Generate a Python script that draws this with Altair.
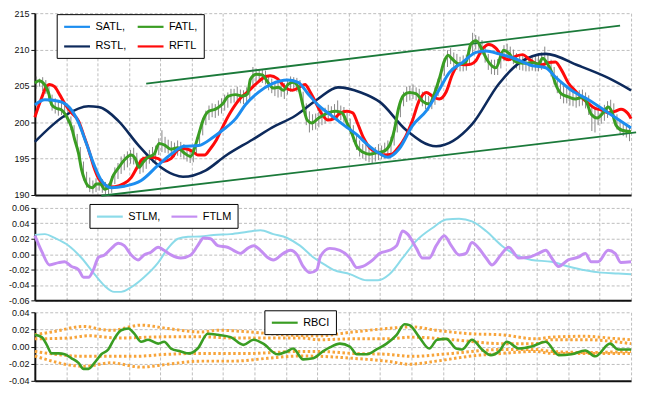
import altair as alt
import pandas as pd
import numpy as np

FONT = "Liberation Sans, Arial, sans-serif"

# ---------------- Panel 1: price bars (low / high per bar) ----------------
bar_low = [204.6,204.9,204.3,203.9,202.8,201.6,201.2,200.9,201.0,200.6,
           199.8,198.9,197.6,196.0,194.2,192.0,191.0,190.4,190.2,190.4,
           190.6,190.3,189.9,189.8,190.3,191.5,192.2,192.9,193.4,193.8,
           194.3,194.2,193.7,192.9,193.1,193.6,194.3,194.5,194.6,195.5,
           195.9,195.8,195.7,195.3,195.2,195.4,195.2,194.9,194.6,194.4,
           194.5,195.6,196.8,198.2,199.6,200.3,200.7,200.6,200.9,201.2,
           201.6,202.0,202.6,202.7,202.8,202.6,202.5,202.8,203.0,204.8,
           205.3,205.6,205.4,205.2,204.4,204.0,203.6,203.4,203.5,203.2,
           203.8,204.2,204.4,204.2,203.8,201.6,199.6,198.6,198.9,199.0,
           199.3,199.6,199.8,200.2,200.2,200.4,200.3,200.3,200.0,199.2,
           198.4,197.3,196.2,195.3,195.0,194.7,194.5,194.4,194.6,194.8,
           194.9,195.0,195.3,195.6,196.8,198.6,200.7,202.2,202.8,203.0,
           203.2,203.0,202.6,202.2,201.8,201.6,201.8,202.4,203.6,205.0,
           206.4,207.6,208.0,207.6,207.2,207.0,207.0,207.1,207.8,209.4,
           210.0,209.9,209.3,208.2,207.2,206.6,206.5,206.5,207.4,208.4,
           208.8,208.5,208.0,207.4,207.2,207.1,207.0,207.0,207.1,207.0,
           207.0,207.2,207.6,207.2,206.3,205.2,204.0,203.2,202.6,202.6,
           202.3,202.2,202.0,202.2,202.3,201.9,201.0,198.8,198.6,199.6,
           199.8,200.2,200.6,200.9,200.4,199.0,198.4,198.1,197.9,197.4]
bar_high = [206.3,206.0,206.2,205.8,205.0,203.8,203.3,202.8,203.4,202.6,
            201.9,200.8,199.6,198.4,196.6,194.6,193.2,192.4,192.0,192.3,
            192.6,192.2,191.8,191.6,192.6,193.8,194.4,195.3,195.6,196.0,
            196.2,196.5,195.8,194.9,195.3,195.8,196.2,196.6,196.8,197.8,
            198.9,198.0,197.6,197.4,197.2,197.5,197.3,197.0,196.5,196.4,
            196.8,197.9,199.2,200.6,201.6,202.3,202.6,202.5,203.0,203.3,
            203.8,204.1,204.6,204.6,204.9,204.5,204.4,204.8,205.4,207.6,
            207.4,207.3,207.2,207.1,206.5,206.0,205.6,205.8,205.6,205.4,
            205.9,206.3,206.2,206.1,205.8,204.2,202.6,201.5,201.1,201.2,
            201.4,201.8,202.0,202.4,202.2,202.5,203.0,202.3,202.1,201.3,
            200.5,199.6,198.4,197.5,197.0,196.9,196.7,196.4,196.6,197.0,
            196.8,197.2,197.5,198.0,199.3,201.0,203.0,204.2,204.9,205.0,
            205.2,204.8,204.6,204.2,203.8,203.6,203.9,204.8,206.0,207.3,
            208.8,209.9,210.2,209.6,209.4,209.0,209.2,209.3,210.4,212.3,
            212.0,211.8,211.3,210.4,209.4,208.6,208.6,208.7,209.6,210.6,
            210.8,210.4,210.0,209.5,209.3,209.2,209.0,209.1,209.2,209.1,
            209.3,209.6,210.4,209.5,208.6,207.6,206.4,205.6,205.0,204.7,
            204.5,204.5,204.2,204.4,204.5,204.1,203.7,202.4,201.8,201.7,
            202.0,202.4,202.9,203.1,202.6,201.1,200.4,200.0,199.8,199.6]

# ---------------- Panel 1: indicator lines (x in bars) ----------------
satl_x = [0,3.2,7.6,11.1,13.9,16.5,19.0,21.2,24.4,28.5,33.9,39.3,43.4,47.5,52.2,56.7,59.8,64.0,
          67.1,71.2,75.7,80.4,83.9,87.1,90.2,94.0,98.8,102.6,105.8,109.9,112.4,116.2,120.3,124.8,
          128.9,132.0,136.2,140.6,143.8,147.9,153.3,158.3,162.8,165.9,171.0,176.4,182.7,190.0]
satl_y = [202.4,203.1,202.9,202.0,200.0,197.0,194.0,192.0,191.0,191.2,192.0,194.1,195.6,196.7,196.8,
          197.9,198.9,200.5,202.4,204.1,205.3,205.8,205.5,203.9,202.4,201.1,199.5,198.3,197.0,195.7,
          195.2,196.4,199.5,201.6,204.5,206.8,208.2,209.6,209.8,209.4,208.7,207.8,207.5,206.2,204.4,
          203.1,201.3,199.2]

fatl_x = [0,1.3,3.2,4.4,5.4,7.0,8.5,10.1,11.7,12.7,13.9,14.9,15.8,17.1,18.4,19.6,20.9,22.2,23.4,25.0,
          26.6,28.5,30.7,32.0,33.2,34.5,36.1,38.0,39.6,41.2,43.4,45.6,47.5,49.7,51.3,52.2,53.8,55.4,
          57.6,59.8,61.7,64.0,66.2,67.8,68.7,70.6,72.5,74.4,76.0,77.6,79.2,80.7,82.3,83.9,85.5,86.8,
          88.3,90.2,93.4,95.9,97.9,99.4,101.0,102.6,104.5,106.7,108.9,111.1,113.0,114.6,115.9,117.5,
          119.4,121.6,123.5,125.7,127.3,128.9,130.5,131.7,133.0,135.2,137.4,139.0,140.6,142.5,144.1,
          146.9,149.4,151.0,153.3,156.4,159.0,160.5,161.8,163.4,164.7,165.9,167.8,170.0,172.3,174.2,
          175.8,177.3,179.2,181.1,182.7,183.9,185.2,187.1,190.0]
fatl_y = [205.4,205.7,205.1,204.0,202.4,201.9,201.7,200.8,199.3,197.6,195.8,193.5,192.2,191.2,191.0,
          191.5,191.5,190.8,191.0,192.7,193.7,194.8,195.5,195.0,193.8,194.5,195.2,195.6,197.1,196.9,
          196.3,196.5,195.8,195.3,197.0,198.3,200.5,201.5,201.8,202.5,203.6,203.8,203.6,203.9,205.9,
          206.6,206.5,205.4,204.7,204.8,204.4,205.2,205.5,204.9,202.2,200.3,199.9,200.5,201.3,201.5,
          201.3,200.0,198.5,196.7,195.9,195.6,195.8,196.0,196.8,199.0,201.9,203.7,204.1,203.9,202.9,
          202.5,203.9,206.0,208.4,209.2,208.7,208.0,208.3,210.8,211.2,210.0,208.6,207.5,209.9,209.5,
          208.3,208.1,208.2,208.0,208.8,208.0,206.9,205.3,203.9,203.5,203.2,203.4,202.8,201.1,200.6,
          201.3,202.1,201.4,199.6,198.9,198.7]

rstl_x = [0,9.5,17.1,20.3,26.6,32.9,39.3,44.3,47.2,54.5,60.8,69.3,75.7,83.0,90.2,96.6,103.9,109.9,
          118.4,127.9,139.3,147.9,154.2,162.8,173.2,182.7,190.0]
rstl_y = [197.3,200.9,202.2,202.1,200.2,196.9,194.1,192.8,192.5,193.4,195.4,197.6,199.3,200.9,203.2,
          204.8,204.1,202.8,198.9,196.7,199.7,205.3,208.1,209.4,207.8,206.1,204.4]

rftl_x = [0,2.2,3.5,4.7,6.3,7.9,9.5,11.7,13.9,15.5,17.1,18.7,20.3,22.2,24.4,26.9,28.5,30.7,32.6,34.5,
          37.0,39.3,40.8,43.4,45.6,47.5,50.3,51.9,54.1,56.0,57.9,59.8,62.4,65.5,68.1,70.3,72.8,75.0,
          77.3,79.8,82.0,84.2,86.1,87.7,89.3,91.5,93.4,95.3,97.2,99.4,101.3,102.9,104.8,106.7,108.9,
          111.5,113.7,115.6,118.1,120.3,122.5,124.8,126.7,128.9,131.1,133.0,135.2,137.4,139.0,140.6,
          142.5,144.7,146.9,148.8,151.0,153.3,155.5,157.4,159.6,161.5,163.7,165.9,167.8,170.0,172.3,
          174.2,176.4,178.6,180.5,182.7,184.9,186.8,189.0,190.0]
rftl_y = [200.7,203.4,204.8,205.2,204.9,203.8,202.6,201.3,200.2,198.3,196.3,194.0,192.3,191.4,191.1,
          191.3,191.6,192.4,193.8,195.0,195.2,195.0,194.6,195.0,196.2,196.4,196.0,195.5,195.5,196.4,
          197.6,199.3,201.4,203.3,204.3,205.2,206.1,206.4,206.0,204.8,204.4,204.8,205.2,204.2,202.9,
          201.1,200.3,200.5,201.2,201.5,201.3,199.8,197.8,196.5,195.9,195.5,195.6,196.4,198.0,200.2,
          203.0,204.1,203.6,203.2,204.2,206.5,208.0,207.9,208.0,208.5,210.0,210.7,210.2,209.1,208.6,
          209.1,209.3,208.7,208.1,207.9,208.2,208.3,207.2,205.4,204.3,203.4,202.6,201.9,201.7,201.3,
          201.5,201.8,201.2,200.5]

chan_up_x = [35.5, 186.5]
chan_up_y = [205.3, 213.3]
chan_lo_x = [21.2, 191.6]
chan_lo_y = [189.9, 198.6]

# ---------------- Panel 2 ----------------
stlm_x = [0,3.2,6.3,10.8,14.9,19.0,22.2,25.3,27.5,30.7,34.8,39.3,42.4,45.6,48.8,52.9,57.0,62.4,67.8,
          71.9,76.0,80.4,84.5,88.7,92.5,95.0,100.4,105.8,109.2,113.0,117.2,121.6,126.7,131.1,135.2,
          139.3,143.8,148.8,153.3,158.3,164.7,170.0,175.4,180.5,185.9,190.0]
stlm_y = [0.025,0.026,0.021,0.011,-0.005,-0.026,-0.041,-0.049,-0.049,-0.043,-0.030,-0.011,0.0075,0.020,
          0.0225,0.023,0.025,0.026,0.029,0.031,0.026,0.021,0.011,-0.004,-0.014,-0.020,-0.026,-0.034,
          -0.034,-0.026,-0.005,0.0175,0.034,0.045,0.046,0.0425,0.030,0.011,-0.001,-0.0075,-0.010,
          -0.016,-0.021,-0.024,-0.025,-0.026]

ftlm_x = [0,2.2,4.7,7.6,9.5,11.7,13.9,15.5,17.1,18.7,20.3,22.2,24.4,26.6,28.5,30.7,32.9,34.8,37.0,39.3,
          41.2,43.4,46.5,49.7,51.9,53.8,56.0,58.3,61.4,63.3,65.5,67.8,69.7,71.9,74.1,76.0,79.2,81.4,
          83.6,85.5,87.7,89.9,91.0,94.0,97.2,100.4,102.6,104.5,107.7,109.9,113.0,115.3,117.2,118.8,
          121.6,123.5,125.7,127.9,130.5,132.7,135.2,137.4,139.3,141.5,143.8,145.7,148.5,151.0,154.2,
          157.4,160.5,162.8,164.7,166.9,170.0,173.2,175.4,177.3,179.5,182.7,184.9,186.8,190.0]
ftlm_y = [0.024,0.0035,-0.014,-0.011,-0.010,-0.016,-0.020,-0.030,-0.030,-0.020,-0.004,-0.001,0.0075,
          0.014,0.011,-0.001,-0.0075,-0.001,0.0025,0.009,0.005,-0.001,-0.005,-0.001,0.011,0.021,0.020,
          0.011,0.009,0.005,0.001,0.0075,0.011,0.005,-0.004,-0.0075,0.001,0.005,-0.001,-0.016,-0.024,
          -0.020,-0.003,0.0075,0.005,-0.005,-0.0175,-0.016,-0.0075,0.001,0.005,0.011,0.030,0.026,
          0.0075,-0.005,-0.005,0.011,0.024,0.011,-0.001,0.001,0.015,0.0075,-0.005,-0.014,-0.001,0.009,
          -0.005,-0.004,0.001,0.005,-0.005,-0.016,-0.0075,-0.004,0.001,-0.010,-0.010,0.005,0.001,
          -0.011,-0.010]

# ---------------- Panel 3 ----------------
rbci_x = [0,2.2,3.8,5.4,7.6,9.5,11.7,13.9,15.5,17.1,19.0,21.2,23.4,25.3,27.5,29.8,31.7,33.9,36.1,39.3,
          41.2,43.4,46.5,49.1,51.9,55.1,58.3,62.4,66.5,69.7,72.8,77.3,80.4,82.3,85.5,88.7,91.8,94.0,
          97.2,100.4,102.6,105.8,108.9,112.1,115.3,117.8,119.4,122.5,125.7,128.2,131.1,134.3,136.2,
          139.3,142.5,145.3,147.9,150.4,154.2,158.3,162.8,166.9,171.0,175.4,178.6,183.3,185.9,190.0]
rbci_y = [0.0137,0.011,0.002,-0.008,-0.008,-0.009,-0.0137,-0.019,-0.026,-0.026,-0.019,-0.009,-0.0034,
          0.009,0.019,0.021,0.015,0.0057,0.008,0.0034,0.0057,-0.0023,-0.0057,-0.008,-0.0023,0.015,
          0.0137,0.011,0.002,0.008,0.0034,-0.009,-0.0057,-0.0023,-0.015,-0.0137,-0.0057,-0.001,0.0034,
          0.0,-0.009,-0.009,-0.0034,0.0034,0.0137,0.026,0.025,0.011,-0.0023,0.008,0.009,-0.0023,-0.0034,
          0.008,-0.0034,-0.010,-0.0057,0.0057,-0.0023,0.0,0.0057,-0.010,-0.009,-0.0046,-0.0114,0.0034,
          -0.0034,-0.0034]

band1_x = [0,5.4,15.8,21.2,24.4,33.9,42.4,52.9,58.3,68.7,79.2,90.2,101.3,112.1,120.3,127.9,138.4,148.8,
           159.6,164.7,175.4,185.9,190]
band1_y = [0.0137,0.017,0.0235,0.020,0.019,0.025,0.021,0.017,0.019,0.017,0.0137,0.0125,0.017,0.021,
           0.023,0.019,0.015,0.0137,0.009,0.011,0.012,0.009,0.008]
band2_x = [0,10.8,17.1,26.6,42.4,52.9,63.3,84.5,90.8,101.3,112.1,120.3,133.0,148.8,159.6,164.7,175.4,190]
band2_y = [0.009,0.010,0.0126,0.010,0.0114,0.0114,0.010,0.010,0.008,0.009,0.009,0.011,0.008,0.0034,
           0.0034,0.008,0.008,0.0034]
band3_x = [0,15.8,31.7,42.4,52.9,68.7,84.5,90.8,101.3,112.1,120.3,133.0,148.8,159.6,164.7,175.4,190]
band3_y = [-0.0057,-0.0114,-0.0114,-0.009,-0.008,-0.008,-0.0057,-0.0057,-0.008,-0.009,-0.0114,-0.008,
           -0.0034,-0.0034,-0.0057,-0.0069,-0.0057]
band4_x = [0,15.8,24.4,33.9,42.4,52.9,63.3,74.1,84.5,90.8,101.3,112.1,119.4,127.9,138.4,148.8,159.6,
           164.7,175.4,190]
band4_y = [-0.011,-0.023,-0.019,-0.024,-0.0206,-0.017,-0.017,-0.0137,-0.011,-0.0114,-0.0137,-0.017,
           -0.0206,-0.017,-0.0114,-0.008,-0.0057,-0.008,-0.008,-0.008]

grid_x = list(range(0, 191, 10))
y1_ticks = [190, 195, 200, 205, 210, 215]
y2_ticks = [-0.06, -0.04, -0.02, 0.0, 0.02, 0.04, 0.06]
y3_ticks = [-0.04, -0.02, 0.0, 0.02, 0.04]

# ---------------- styling ----------------
GRID = "#bdbdbd"
AXC = "#111111"
C_SATL, C_FATL, C_RSTL, C_RFTL = "#1c8df0", "#3a9d23", "#0d2a5c", "#ff0a0a"
C_CHAN = "#1b7a3a"
C_STLM, C_FTLM = "#8cdbe9", "#c48ef2"
C_RBCI = "#3a9d23"
C_BAND = "#f7a43a"
NEG_EXPR = "(datum.value < -0.0001 ? '-' : '') + format(abs(datum.value), '.2f')"


def df(xs, ys, name=None):
    d = pd.DataFrame({"x": xs, "y": ys})
    if name is not None:
        d["s"] = name
    return d


def xenc():
    return alt.X("x:Q", scale=alt.Scale(domain=[0, 190], nice=False, zero=False),
                 axis=alt.Axis(values=grid_x, labels=False, ticks=False, title=None, grid=True,
                               gridDash=[3, 2], gridColor=GRID, domainColor=AXC, domainWidth=2))


def yaxis(values, expr=None):
    kw = dict(values=values, title=None, grid=True, gridDash=[3, 2], gridColor=GRID,
              domainColor=AXC, domainWidth=2, tickColor=AXC, tickSize=4, labelFont=FONT,
              labelFontSize=9, labelColor=AXC, labelPadding=2, minExtent=25, maxExtent=25)
    if expr:
        kw["labelExpr"] = expr
    return alt.Axis(**kw)


def yenc(field, domain, values, expr=None):
    return alt.Y(field, scale=alt.Scale(domain=domain, nice=False, zero=False),
                 axis=yaxis(values, expr))


def legend(x, y, cols, label_expr):
    return alt.Legend(title=None, orient="none", legendX=x, legendY=y, columns=cols,
                      direction="horizontal", symbolType="M-1,0L4.2,0", symbolSize=100,
                      symbolStrokeWidth=2.2, labelFont=FONT, labelFontSize=11, labelColor="#000",
                      labelOffset=20, strokeColor="#000", fillColor="white", padding=6,
                      columnPadding=6, rowPadding=8, labelExpr=label_expr)


def series(xs, ys, name, scale, leg, ydef, width=3):
    return alt.Chart(df(xs, ys, name)).mark_line(interpolate="monotone", strokeWidth=width).encode(
        x=xenc(), y=ydef, color=alt.Color("s:N", scale=scale, legend=leg))


# ---------------- Panel 1 ----------------
bars = pd.DataFrame({"x": np.arange(len(bar_low)) + 0.5, "low": bar_low, "high": bar_high})
Y1 = yenc("y:Q", [190, 215], y1_ticks)
scale1 = alt.Scale(domain=["SATL", "FATL", "RSTL", "RFTL"], range=[C_SATL, C_FATL, C_RSTL, C_RFTL])
leg1 = legend(22, 1, 2, "datum.label == 'RFTL' ? datum.label : datum.label + ','")

p_bars = alt.Chart(bars).mark_rule(color="#868686", strokeWidth=1).encode(
    x=xenc(), y=yenc("low:Q", [190, 215], y1_ticks), y2="high:Q")
p_cu = alt.Chart(df(chan_up_x, chan_up_y)).mark_line(color=C_CHAN, strokeWidth=1.8).encode(x=xenc(), y=Y1)
p_cl = alt.Chart(df(chan_lo_x, chan_lo_y)).mark_line(color=C_CHAN, strokeWidth=1.8).encode(x=xenc(), y=Y1)
p_rstl = series(rstl_x, rstl_y, "RSTL", scale1, leg1, Y1, 2.6)
p_rftl = series(rftl_x, rftl_y, "RFTL", scale1, leg1, Y1, 3)
p_fatl = series(fatl_x, fatl_y, "FATL", scale1, leg1, Y1, 3)
p_satl = series(satl_x, satl_y, "SATL", scale1, leg1, Y1, 3)
panel1 = alt.layer(p_bars, p_cu, p_cl, p_rstl, p_rftl, p_fatl, p_satl).properties(width=600, height=183)

# ---------------- Panel 2 ----------------
Y2 = yenc("y:Q", [-0.06, 0.06], y2_ticks, NEG_EXPR)
scale2 = alt.Scale(domain=["STLM", "FTLM"], range=[C_STLM, C_FTLM])
leg2 = legend(55, -4, 2, "datum.label == 'FTLM' ? datum.label : datum.label + ','")
p_stlm = series(stlm_x, stlm_y, "STLM", scale2, leg2, Y2, 2)
p_ftlm = series(ftlm_x, ftlm_y, "FTLM", scale2, leg2, Y2, 3)
panel2 = alt.layer(p_stlm, p_ftlm).properties(width=600, height=93)

# ---------------- Panel 3 ----------------
Y3 = yenc("y:Q", [-0.04, 0.04], y3_ticks, NEG_EXPR)
scale3 = alt.Scale(domain=["RBCI"], range=[C_RBCI])
leg3 = legend(231, -2, 1, "datum.label")
band_layers = [
    alt.Chart(df(bx, by)).mark_line(color=C_BAND, strokeWidth=3, strokeDash=[2.5, 2.5],
                                    interpolate="monotone").encode(x=xenc(), y=Y3)
    for bx, by in [(band1_x, band1_y), (band2_x, band2_y), (band3_x, band3_y), (band4_x, band4_y)]
]
p_rbci = series(rbci_x, rbci_y, "RBCI", scale3, leg3, Y3, 2.6)
panel3 = alt.layer(*band_layers, p_rbci).properties(width=600, height=69)

chart = (
    alt.vconcat(panel1, panel2, panel3, spacing=3)
    .resolve_scale(color="independent")
    .resolve_legend(color="independent")
    .configure_view(stroke=None)
    .properties(padding={"left": 0, "top": 0, "right": 2, "bottom": 0}, background="white")
)

chart.save("out.html", embed_options={"renderer": "svg", "actions": False})
